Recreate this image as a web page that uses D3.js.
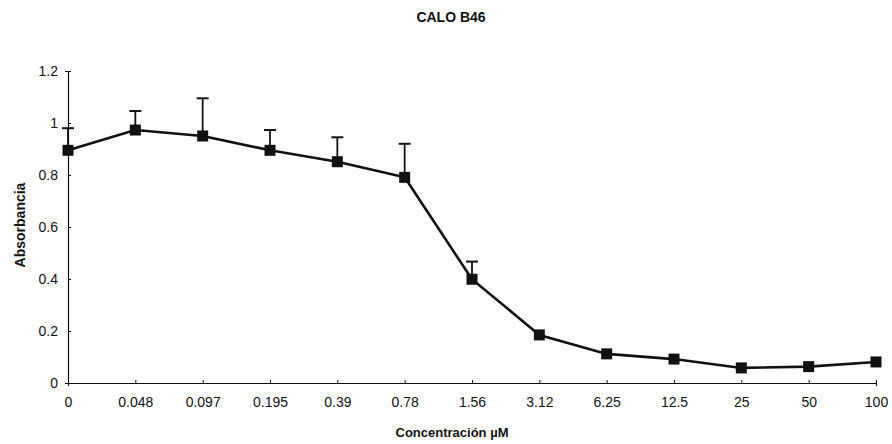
<!DOCTYPE html>
<html>
<head>
<meta charset="utf-8">
<script src="https://cdn.jsdelivr.net/npm/d3@7"></script>
<style>
  html, body { margin: 0; padding: 0; background: #fff; }
  svg { display: block; font-family: "Liberation Sans", Arial, sans-serif; }
</style>
</head>
<body>
<svg id="chart" width="892" height="444"></svg>
<script>
// Concentration categories (µM) and mean absorbance with upper error (SD)
const concentrations = ["0", "0.048", "0.097", "0.195", "0.39", "0.78", "1.56", "3.12", "6.25", "12.5", "25", "50", "100"];
const absorbance     = [0.895, 0.973, 0.950, 0.895, 0.851, 0.791, 0.399, 0.185, 0.112, 0.092, 0.058, 0.063, 0.081];
const errorUp        = [0.085, 0.073, 0.145, 0.078, 0.094, 0.129, 0.068, 0, 0, 0, 0, 0, 0];
const yTicks         = [0, 0.2, 0.4, 0.6, 0.8, 1, 1.2];

const svg = d3.select("#chart");
const margin = { left: 68, right: 16, top: 71, bottom: 61 };
const W = 892, H = 444;

const x = d3.scalePoint()
  .domain(concentrations)
  .range([margin.left, W - margin.right]);

const y = d3.scaleLinear()
  .domain([0, 1.2])
  .range([H - margin.bottom, margin.top]);

const ink = "#111";

// Y axis
const yAxis = svg.append("g")
  .attr("transform", `translate(${margin.left},0)`)
  .call(d3.axisLeft(y).tickValues(yTicks).tickFormat(d3.format("")).tickSize(3).tickPadding(7));
yAxis.select(".domain").attr("stroke", ink).attr("stroke-width", 1.2);
yAxis.selectAll(".tick line").attr("stroke", ink).attr("x2", 3).attr("x1", 0);
yAxis.selectAll(".tick text").attr("font-size", 14).attr("fill", ink).attr("x", -10);

// X axis
const xAxis = svg.append("g")
  .attr("transform", `translate(0,${y(0)})`)
  .call(d3.axisBottom(x).tickSize(3).tickPadding(11));
xAxis.select(".domain").attr("stroke", ink).attr("stroke-width", 1.2);
xAxis.selectAll(".tick line").attr("stroke", ink).attr("y1", -3).attr("y2", 0);
xAxis.selectAll(".tick text").attr("font-size", 14).attr("fill", ink);

// Upper error bars
const pts = concentrations.map((c, i) => ({ c, v: absorbance[i], e: errorUp[i] }));
const eb = svg.append("g").selectAll("g")
  .data(pts.filter(d => d.e > 0))
  .join("g");
eb.append("line")
  .attr("x1", d => x(d.c)).attr("x2", d => x(d.c))
  .attr("y1", d => y(d.v)).attr("y2", d => y(d.v + d.e))
  .attr("stroke", ink).attr("stroke-width", 1.8);
eb.append("line")
  .attr("x1", d => x(d.c) - 6).attr("x2", d => x(d.c) + 6)
  .attr("y1", d => y(d.v + d.e)).attr("y2", d => y(d.v + d.e))
  .attr("stroke", ink).attr("stroke-width", 2);

// Series line
const line = d3.line().x(d => x(d.c)).y(d => y(d.v));
svg.append("path")
  .datum(pts)
  .attr("d", line)
  .attr("fill", "none")
  .attr("stroke", ink)
  .attr("stroke-width", 2.6)
  .attr("stroke-linejoin", "round");

// Square markers
const ms = 11;
svg.append("g").selectAll("rect")
  .data(pts)
  .join("rect")
  .attr("x", d => x(d.c) - ms / 2)
  .attr("y", d => y(d.v) - ms / 2)
  .attr("width", ms).attr("height", ms)
  .attr("fill", ink);

// Title and axis titles
svg.append("text")
  .attr("x", 451).attr("y", 22)
  .attr("text-anchor", "middle")
  .attr("font-size", 14).attr("font-weight", "bold").attr("fill", ink)
  .text("CALO B46");

svg.append("text")
  .attr("x", 452).attr("y", 437)
  .attr("text-anchor", "middle")
  .attr("font-size", 13).attr("font-weight", "bold").attr("fill", ink)
  .text("Concentración µM");

svg.append("text")
  .attr("transform", "translate(25,225) rotate(-90)")
  .attr("text-anchor", "middle")
  .attr("font-size", 14).attr("font-weight", "bold").attr("fill", ink)
  .text("Absorbancia");
</script>
</body>
</html>
